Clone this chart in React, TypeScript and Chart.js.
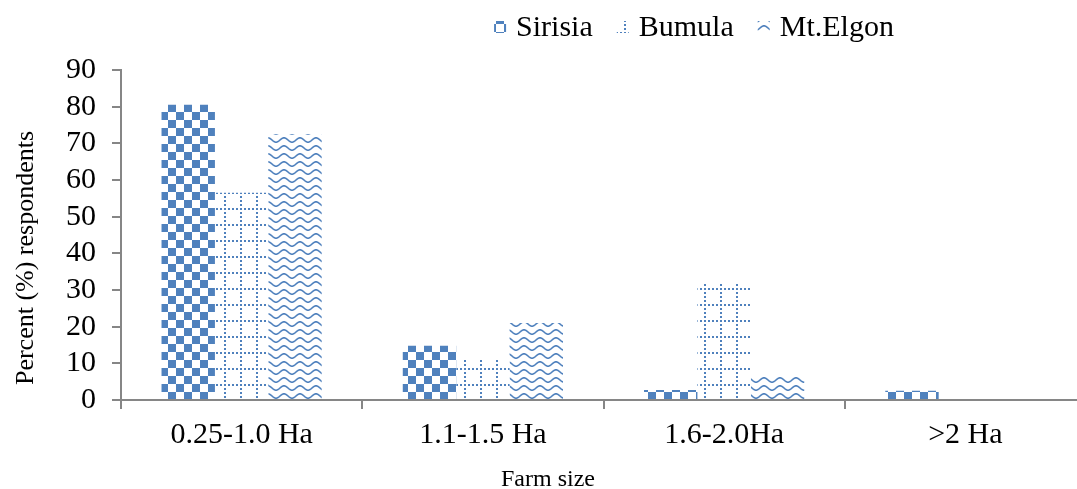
import React, { useEffect, useRef } from "react";
import { Chart, registerables } from "chart.js";

Chart.register(...registerables);

const categories = ["0.25-1.0 Ha", "1.1-1.5 Ha", "1.6-2.0Ha", ">2 Ha"];
const seriesNames = ["Sirisia", "Bumula", "Mt.Elgon"];
const sirisia = [80.5, 14.8, 2.7, 2.5];
const bumula = [56.5, 11, 32, 0];
const mtElgon = [72.5, 21, 6.8, 0];
const yTicks = [0, 10, 20, 30, 40, 50, 60, 70, 80, 90];

const BLUE = "#4f81bd";
const AXIS = "#868686";
const FONT = "'Liberation Serif', 'Times New Roman', serif";

function makeTile(w: number, h: number, draw: (c: CanvasRenderingContext2D) => void) {
  const cv = document.createElement("canvas");
  cv.width = w;
  cv.height = h;
  const c = cv.getContext("2d")!;
  c.fillStyle = "#ffffff";
  c.fillRect(0, 0, w, h);
  draw(c);
  return c.createPattern(cv, "repeat")!;
}

function checkerPattern() {
  return makeTile(16, 16, (c) => {
    c.fillStyle = BLUE;
    c.fillRect(0, 0, 8, 8);
    c.fillRect(8, 8, 8, 8);
  });
}

function dottedGridPattern() {
  return makeTile(16, 16, (c) => {
    c.fillStyle = BLUE;
    for (let i = 0; i < 16; i += 4) {
      c.fillRect(0, i, 2, 2);
      c.fillRect(i, 0, 2, 2);
    }
  });
}

function wavePattern() {
  return makeTile(16, 8, (c) => {
    c.strokeStyle = BLUE;
    c.lineWidth = 1.6;
    c.beginPath();
    for (let x = -1; x <= 17; x += 0.5) {
      const y = 4 + 2.2 * Math.sin((2 * Math.PI * x) / 16);
      if (x === -1) c.moveTo(x, y);
      else c.lineTo(x, y);
    }
    c.stroke();
  });
}

const customText = {
  id: "customText",
  afterDraw(chart: any) {
    const ctx = chart.ctx as CanvasRenderingContext2D;
    ctx.save();
    // legend
    const legendFont = `30px ${FONT}`;
    ctx.font = legendFont;
    ctx.textBaseline = "middle";
    ctx.textAlign = "left";
    const box = 12;
    const gapText = 10;
    const gapItem = 24;
    const widths = chart.data.datasets.map((d: any) => ctx.measureText(d.label).width);
    const total =
      widths.reduce((a: number, b: number) => a + b, 0) +
      chart.data.datasets.length * (box + gapText) +
      (chart.data.datasets.length - 1) * gapItem;
    let x = 694 - total / 2;
    const ly = 27;
    chart.data.datasets.forEach((d: any, i: number) => {
      ctx.fillStyle = d.backgroundColor;
      ctx.fillRect(x, ly - box / 2, box, box);
      x += box + gapText;
      ctx.fillStyle = "#000";
      ctx.font = legendFont;
      ctx.fillText(d.label, x, ly + 1);
      x += widths[i] + gapItem;
    });
    // x title
    ctx.font = `24px ${FONT}`;
    ctx.textAlign = "center";
    ctx.fillText("Farm size", 548, 480);
    // y title
    ctx.translate(26, 258);
    ctx.rotate(-Math.PI / 2);
    ctx.font = `26px ${FONT}`;
    ctx.fillText("Percent (%) respondents", 0, 0);
    ctx.restore();
  },
};

export default function App() {
  const ref = useRef<HTMLCanvasElement | null>(null);
  useEffect(() => {
    if (!ref.current) return;
    const chart = new Chart(ref.current, {
      type: "bar",
      data: {
        labels: categories,
        datasets: [
          { label: seriesNames[0], data: sirisia, backgroundColor: checkerPattern() as any },
          { label: seriesNames[1], data: bumula, backgroundColor: dottedGridPattern() as any },
          { label: seriesNames[2], data: mtElgon, backgroundColor: wavePattern() as any },
        ],
      },
      options: {
        animation: false,
        responsive: true,
        maintainAspectRatio: false,
        layout: { padding: { top: 70, right: 4, left: 0, bottom: 0 } },
        datasets: { bar: { categoryPercentage: 0.664, barPercentage: 1 } },
        plugins: { legend: { display: false }, tooltip: { enabled: false } },
        scales: {
          x: {
            afterFit: (s: any) => {
              s.height = 89;
            },
            border: { color: AXIS, width: 2 },
            grid: { drawOnChartArea: false, color: AXIS, lineWidth: 2, tickLength: 9, offset: true },
            ticks: { color: "#000", font: { family: FONT, size: 30 }, padding: 8, autoSkip: false, maxRotation: 0 },
          },
          y: {
            min: 0,
            max: 90,
            afterFit: (s: any) => {
              s.width = 121;
            },
            afterBuildTicks: (s: any) => {
              s.ticks = yTicks.map((v) => ({ value: v }));
            },
            border: { color: AXIS, width: 2 },
            grid: { drawOnChartArea: false, color: AXIS, lineWidth: 2, tickLength: 9 },
            ticks: { color: "#000", font: { family: FONT, size: 30 }, padding: 16, autoSkip: false },
          },
        },
      },
      plugins: [customText],
    });
    return () => chart.destroy();
  }, []);
  return (
    <div style={{ position: "absolute", left: 0, top: 0, width: 1077, height: 489, overflow: "hidden", background: "#fff" }}>
      <div style={{ position: "relative", width: 1090, height: 489 }}>
        <canvas ref={ref} />
      </div>
    </div>
  );
}
